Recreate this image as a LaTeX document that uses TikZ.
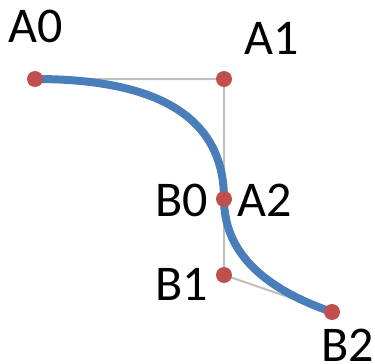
\documentclass[tikz,border=0pt]{standalone}
\usepackage{fontspec}
\setmainfont{Carlito}
\usetikzlibrary{calc}
\definecolor{curveblue}{HTML}{4A7EBB}
\definecolor{dotred}{HTML}{C0504D}
\definecolor{guidegray}{HTML}{BFBFBF}
\begin{document}
\begin{tikzpicture}[x=1pt,y=-1pt,
  guide/.style={draw=guidegray,line width=2pt},
  curve/.style={draw=curveblue,line width=8pt},
  dot/.style={circle,fill=dotred,inner sep=0pt,minimum size=16pt},
  lbl/.style={inner sep=0pt,font=\fontsize{50}{60}\selectfont}]
\useasboundingbox (0,0) rectangle (375,364);
\coordinate (A0) at (35,79);
\coordinate (A1) at (224,79);
\coordinate (A2) at (224,199);
\coordinate (B0) at (224,199);
\coordinate (B1) at (224,275);
\coordinate (B2) at (332,312);
\draw[guide] (A0) -- (A1) -- (B1) -- (B2);
\draw[curve] (A0) .. controls ($(A0)!2/3!(A1)$) and ($(A2)!2/3!(A1)$) .. (A2)
  .. controls ($(B0)!2/3!(B1)$) and ($(B2)!2/3!(B1)$) .. (B2);
\node[dot] (dA0) at (A0) {};
\node[dot] (dA1) at (A1) {};
\node[dot] (dB0) at (B0) {};
\node[dot] (dB1) at (B1) {};
\node[dot] (dB2) at (B2) {};
\node[lbl] (tA0) at (36,26.5) {A0};
\node[lbl] (tA1) at (272,38) {A1};
\node[lbl] (tB0) at (182,200.5) {B0};
\node[lbl] (tA2) at (265,200.5) {A2};
\node[lbl] (tB1) at (182,284) {B1};
\node[lbl] (tB2) at (348,345) {B2};
\end{tikzpicture}
\end{document}
